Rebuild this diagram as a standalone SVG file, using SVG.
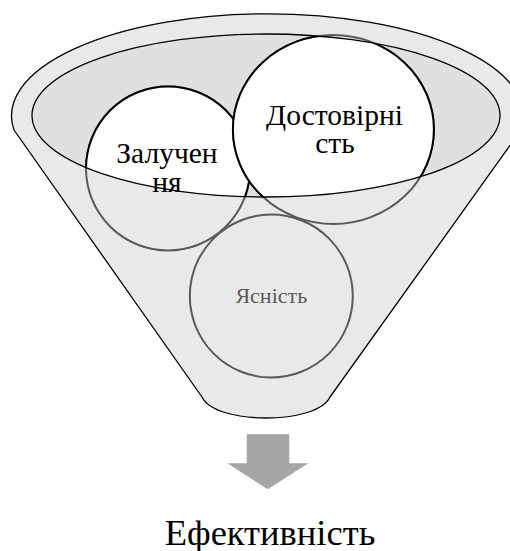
<svg xmlns="http://www.w3.org/2000/svg" width="510" height="551" viewBox="0 0 510 551">
<style>
.bg{fill:#e9e9e9;stroke:#595959;stroke-width:2}
.fg{fill:#ffffff;stroke:#000000;stroke-width:2}
.t{text-anchor:middle}
.big{font-size:29.5px;fill:#000}
.small{font-size:22px;fill:#5a5a5a}
</style>
<defs>
<clipPath id="inner"><ellipse cx="266" cy="115.5" rx="234" ry="81.5"/></clipPath>
</defs>
<g id="funnel">
<path d="M14,130 A256,102 0 1 1 521,130 L330,397 C317,425 215,425 202,397 Z" fill="#e9e9e9" stroke="#000" stroke-width="1.3" stroke-linejoin="round"/>
<ellipse cx="266" cy="115.5" rx="234" ry="81.5" fill="#e0e0e0"/>
</g>
<g id="node-yasnist">
<circle class="bg" cx="271.3" cy="296" r="81.5"/>
<text class="t small" font-family="'Liberation Serif'" x="271.3" y="302.7">Ясність</text>
</g>
<g id="node-zaluchennya">
<circle class="bg" cx="168" cy="168.5" r="82"/>
<circle class="fg" cx="168" cy="168.5" r="82" clip-path="url(#inner)"/>
<text class="t big" font-family="'Liberation Serif'" x="167" y="163.3">Залучен</text>
<text class="t big" font-family="'Liberation Serif'" x="167" y="191.7">ня</text>
</g>
<g id="node-dostovirnist">
<ellipse class="bg" cx="333.4" cy="129.5" rx="100.5" ry="94.5"/>
<ellipse class="fg" cx="333.4" cy="129.5" rx="100.5" ry="94.5" clip-path="url(#inner)"/>
<text class="t big" font-family="'Liberation Serif'" x="334.5" y="125">Достовірні</text>
<text class="t big" font-family="'Liberation Serif'" x="335" y="153.3">сть</text>
</g>
<g id="funnel-rim">
<ellipse cx="266" cy="115.5" rx="234" ry="81.5" fill="none" stroke="#000" stroke-width="1.3"/>
</g>
<g id="connectors">
<path d="M246.7,434.3 H289.3 V463.3 H308.3 L267.7,489.3 L227.3,463.3 H246.7 Z" fill="#a6a6a6"/>
</g>
<g id="node-efektyvnist">
<text class="t" font-family="'Liberation Serif'" x="270" y="545" font-size="36.5" fill="#000">Ефективність</text>
</g>
</svg>
